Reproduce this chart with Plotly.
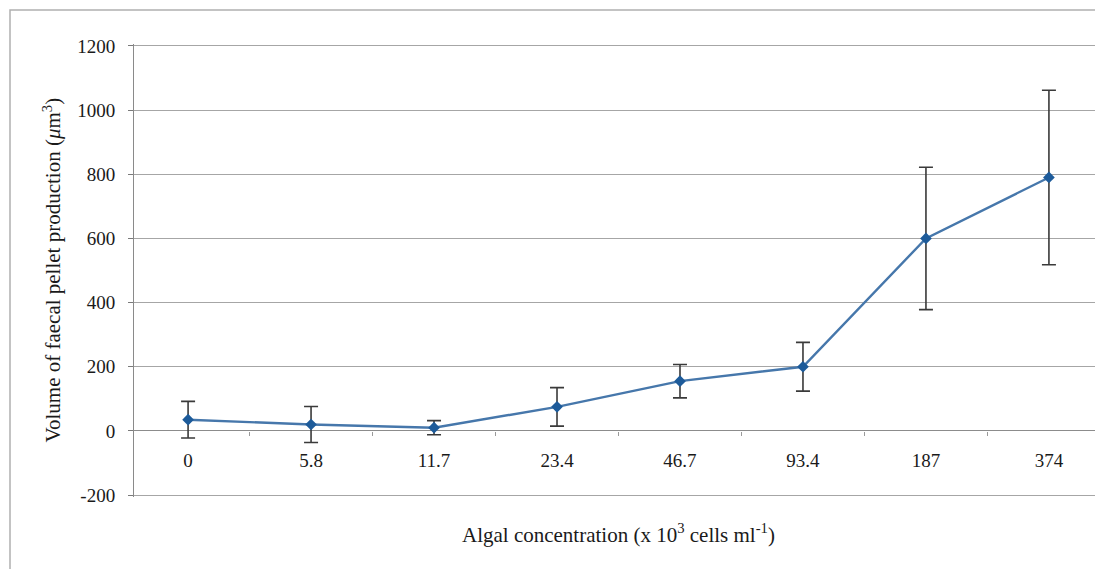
import plotly.graph_objects as go

# algal concentration categories (x10^3 cells/ml)
concentrations = ["0", "5.8", "11.7", "23.4", "46.7", "93.4", "187", "374"]
pellet_volume = [35, 20, 10, 75, 155, 200, 600, 790]
volume_err = [57, 56, 22, 60, 52, 76, 222, 272]

y_ticks = [-200, 0, 200, 400, 600, 800, 1000, 1200]
y_min, y_max = -200, 1200

font = "Liberation Serif, Times New Roman, serif"

# page is offset by the body margin, so work in figure pixels
W, H = 1095, 561
L, R, T, B = 126, 1095, 36, 489
pw, ph = R - L, B - T

fig = go.Figure(
    go.Scatter(
        x=concentrations,
        y=pellet_volume,
        mode="lines+markers",
        line=dict(color="#4677ab", width=2.4),
        marker=dict(symbol="diamond", size=9, color="#1d5b9a"),
        error_y=dict(
            type="data",
            array=volume_err,
            color="#3a3a3a",
            thickness=1.6,
            width=7,
        ),
    )
)

fig.update_layout(
    width=W,
    height=H,
    paper_bgcolor="white",
    plot_bgcolor="white",
    showlegend=False,
    margin=dict(l=L, r=W - R, t=T, b=H - B),
    font=dict(family=font, size=19, color="#1a1a1a"),
    xaxis=dict(
        type="category",
        anchor="free",
        position=(0 - (y_min - 6)) / (y_max - y_min + 12),
        automargin=False,
        showline=False,
        showgrid=False,
        ticks="outside",
        tickson="boundaries",
        ticklen=4,
        tickcolor="#9a9a9a",
        ticklabelstandoff=16,
    ),
    yaxis=dict(
        range=[y_min - 6, y_max + 6],
        tickvals=y_ticks,
        ticktext=[str(v) for v in y_ticks],
        automargin=False,
        showgrid=True,
        gridcolor="#a6a6a6",
        gridwidth=1,
        zeroline=True,
        zerolinecolor="#8c8c8c",
        zerolinewidth=1,
        showline=True,
        mirror=True,
        linecolor="#8a8a8a",
        ticks="outside",
        ticklen=5,
        tickcolor="#7a7a7a",
        ticklabelstandoff=9,
    ),
)

fig.add_annotation(
    text="Volume of faecal pellet production (<i>μ</i>m<sup>3</sup>)",
    xref="paper",
    yref="paper",
    x=(44 - L) / pw,
    y=0.5,
    xanchor="center",
    yanchor="middle",
    textangle=-90,
    showarrow=False,
    font=dict(size=21),
)

fig.add_annotation(
    text="Algal concentration (x 10<sup>3</sup> cells ml<sup>-1</sup>)",
    xref="paper",
    yref="paper",
    x=0.5,
    y=(B - 525) / ph,
    xanchor="center",
    yanchor="middle",
    showarrow=False,
    font=dict(size=21),
)

# outer chart frame (left and top edges visible)
fig.add_shape(
    type="rect",
    xref="paper",
    yref="paper",
    x0=(2 - L) / pw,
    x1=(1140 - L) / pw,
    y0=(B - 600) / ph,
    y1=(B - 2) / ph,
    line=dict(color="#b0b0b0", width=1.5),
    layer="below",
)

fig.write_html("out.html")
